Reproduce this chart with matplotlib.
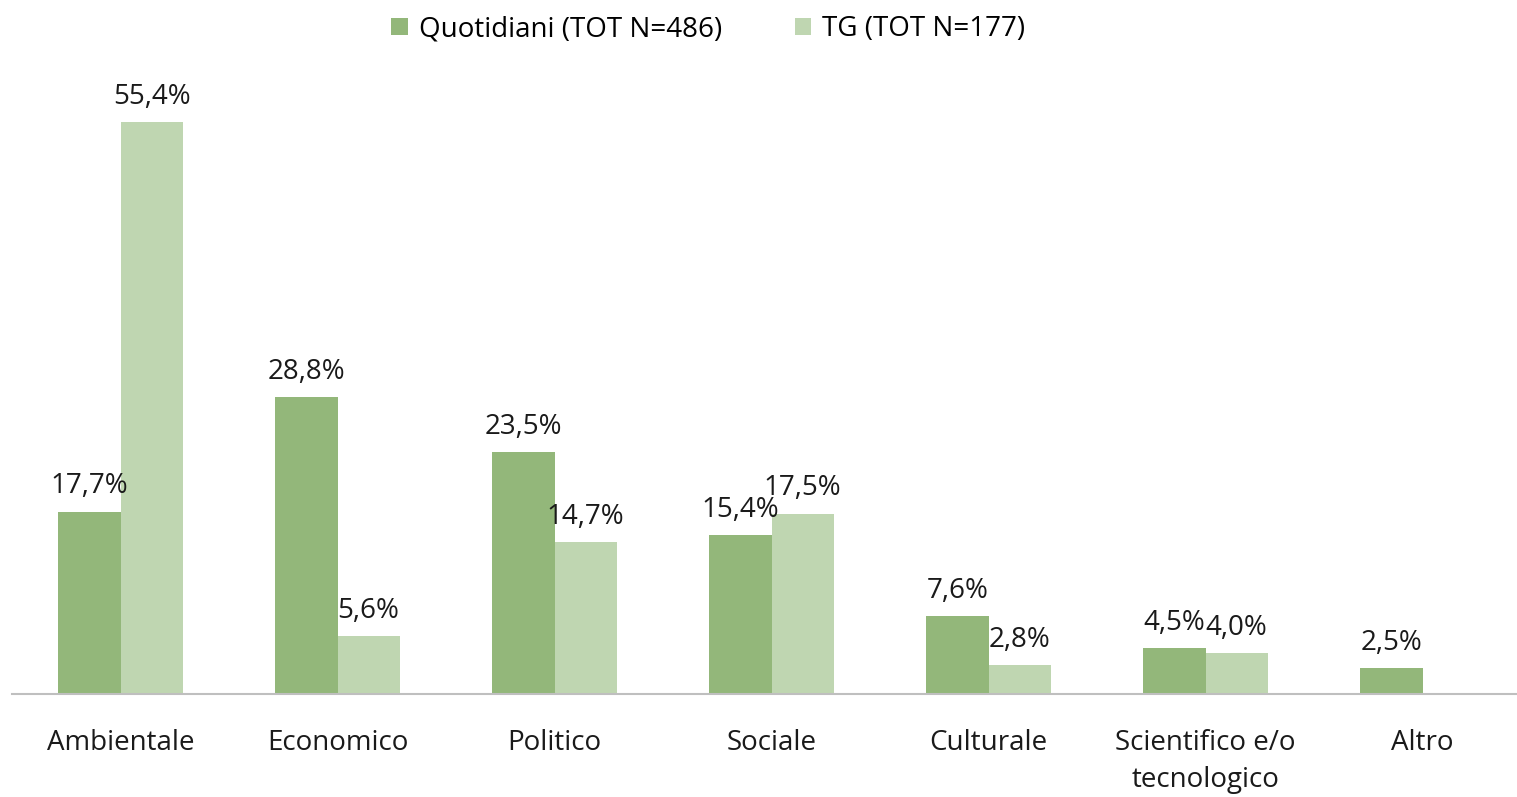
import numpy as np
import matplotlib.pyplot as plt

categories = ["Ambientale", "Economico", "Politico", "Sociale", "Culturale",
              "Scientifico e/o\ntecnologico", "Altro"]
quotidiani = [17.7, 28.8, 23.5, 15.4, 7.6, 4.5, 2.5]
tg = [55.4, 5.6, 14.7, 17.5, 2.8, 4.0, None]
series_names = ["Quotidiani (TOT N=486)", "TG (TOT N=177)"]

DARK = "#93B77A"
LIGHT = "#BFD6B1"

plt.rcParams["font.family"] = ["Liberation Sans Narrow", "Open Sans", "DejaVu Sans"]

fig = plt.figure(figsize=(15.17, 7.97), dpi=100)
ax = fig.add_axes([12 / 1517, 0.129, 1505 / 1517, 0.777])

x = np.arange(len(categories))
w = 0.286

b1 = ax.bar(x - w / 2, quotidiani, w, color=DARK, label=series_names[0])
tg_vals = [v if v is not None else 0 for v in tg]
b2 = ax.bar(x + w / 2, tg_vals, w, color=LIGHT, label=series_names[1])

def fmt(v):
    return f"{v:.1f}%".replace(".", ",")

for xi, v in zip(x, quotidiani):
    ax.annotate(fmt(v), (xi - w / 2, v), xytext=(0, 8), textcoords="offset points",
                ha="center", va="bottom", fontsize=20, color="#1a1a1a")
for xi, v in zip(x, tg):
    if v is None:
        continue
    ax.annotate(fmt(v), (xi + w / 2, v), xytext=(0, 8), textcoords="offset points",
                ha="center", va="bottom", fontsize=20, color="#1a1a1a")

# 217 px per category, axis line runs to the right edge
ax.set_xlim(-0.5, -0.5 + 1505 / 217)
ax.set_ylim(0, 60)
ax.set_yticks([])
ax.set_xticks(x)
ax.set_xticklabels(categories, fontsize=20, color="#1a1a1a", linespacing=1.45)
ax.tick_params(axis="x", length=0, pad=25)
for s in ["top", "left", "right"]:
    ax.spines[s].set_visible(False)
ax.spines["bottom"].set_color("#BFBFBF")
ax.spines["bottom"].set_linewidth(1.5)

fig.legend(handles=[b1, b2], labels=series_names, loc="upper center",
           bbox_to_anchor=(0.467, 1.012), ncol=2, frameon=False, fontsize=20,
           handlelength=0.6, handleheight=0.6, handletextpad=0.4, columnspacing=2.6)

fig.savefig("out.png", dpi=100)
